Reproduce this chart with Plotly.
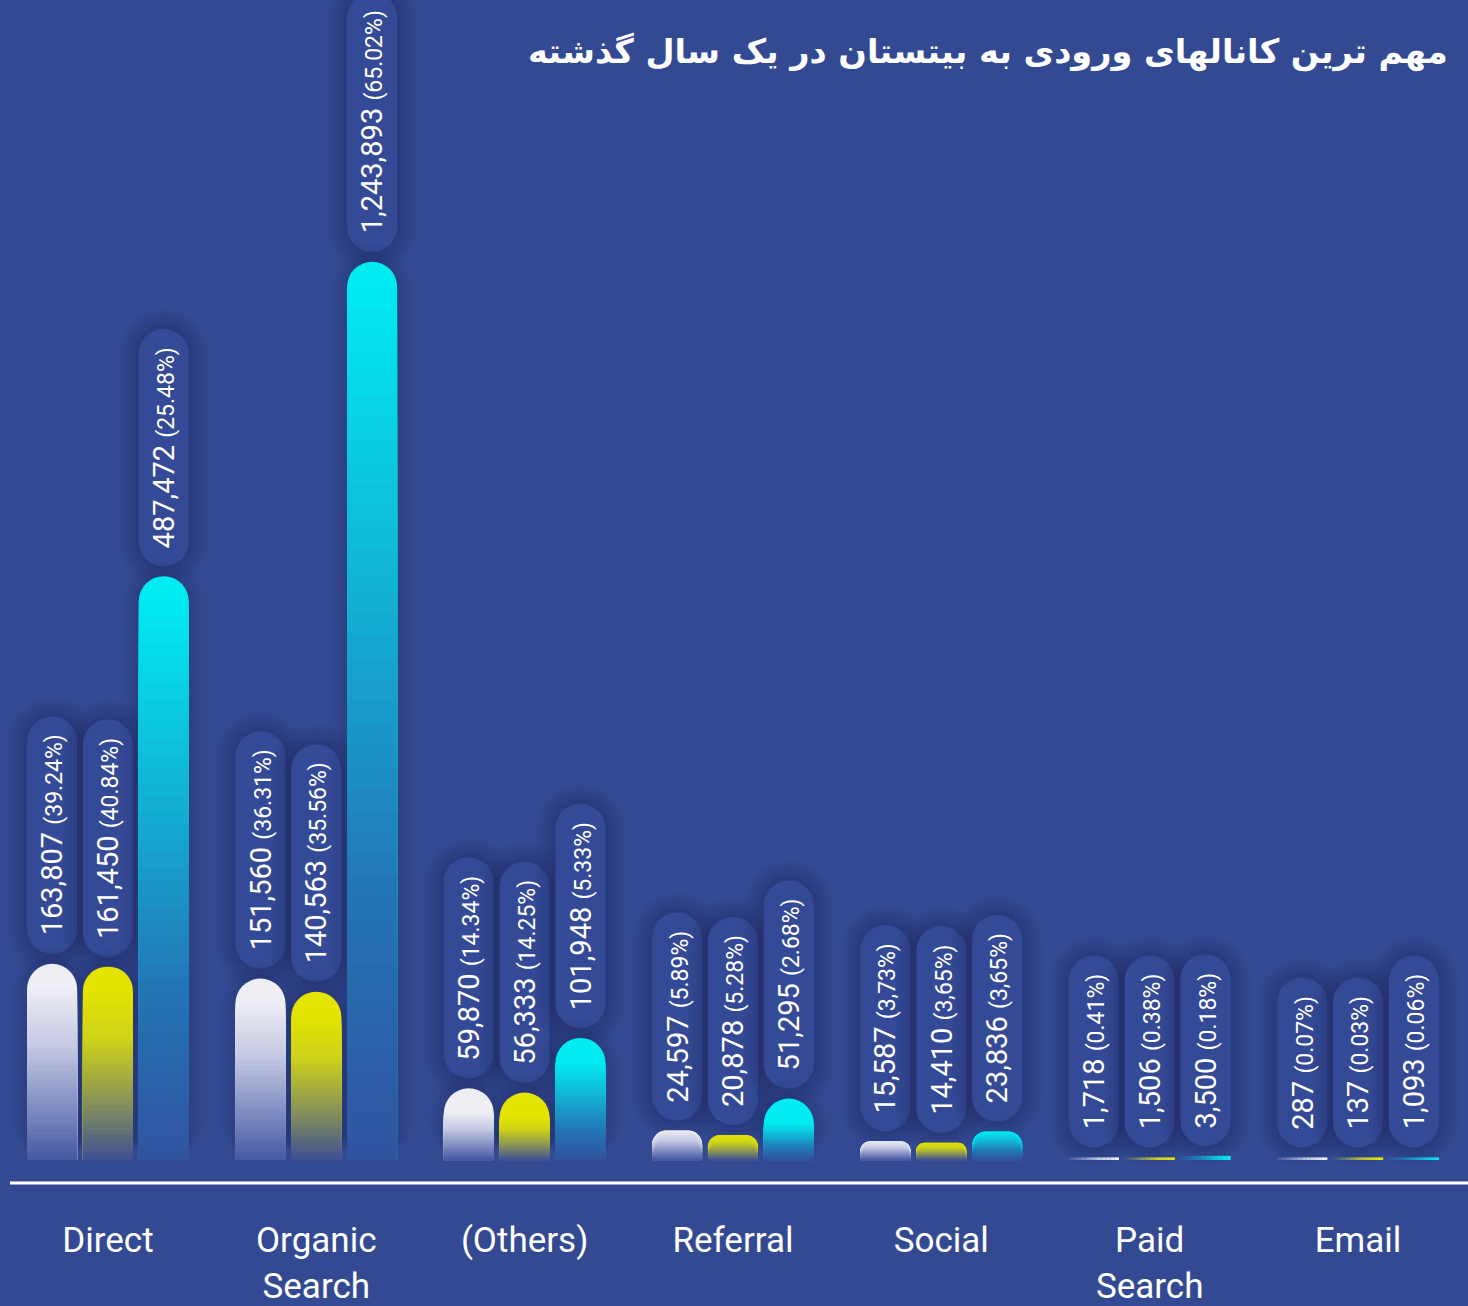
import plotly.graph_objects as go

categories = ["Direct", "Organic<br>Search", "(Others)", "Referral", "Social", "Paid<br>Search", "Email"]

white_values = [163807, 151560, 59870, 24597, 15587, 1718, 287]
white_pct = ["(39.24%)", "(36.31%)", "(14.34%)", "(5.89%)", "(3,73%)", "(0.41%)", "(0.07%)"]
yellow_values = [161450, 140563, 56333, 20878, 14410, 1506, 137]
yellow_pct = ["(40.84%)", "(35.56%)", "(14.25%)", "(5.28%)", "(3,65%)", "(0.38%)", "(0.03%)"]
cyan_values = [487472, 1243893, 101948, 51295, 23836, 3500, 1093]
cyan_pct = ["(25.48%)", "(65.02%)", "(5.33%)", "(2.68%)", "(3,65%)", "(0.18%)", "(0.06%)"]

# the original graphic cuts the tallest bar short and keeps tiny ones as a thin line
bar_cap = 750000
bar_floor = 2200

title = "مهم ترین کانالهای ورودی به بیتستان در یک سال گذشته"

BG = "rgb(51,74,147)"
W, H = 1468, 1306
MB = 123
plot_h = H - MB
y_min, y_max = -19200, 968600
u = (y_max - y_min) / plot_h          # data units per pixel (y)
x_min, x_max = -0.518, 6.528
px_x = W / (x_max - x_min)            # pixels per category

bar_w = 50 / px_x
pitch = 0.268
R = 25
N = 40
M = 12

series = [
    (white_values, white_pct, -pitch,
     [(0, (238, 238, 244)), (0.35, (196, 200, 226)), (0.7, (130, 142, 195)), (1, (72, 90, 164))]),
    (yellow_values, yellow_pct, 0.0,
     [(0, (228, 228, 0)), (0.3, (205, 210, 25)), (0.65, (140, 150, 85)), (1, (64, 82, 144))]),
    (cyan_values, cyan_pct, pitch,
     [(0, (0, 236, 242)), (0.35, (18, 180, 212)), (0.7, (35, 118, 182)), (1, (48, 84, 160))]),
]


def mix(stops, t):
    for (t0, c0), (t1, c1) in zip(stops, stops[1:]):
        if t <= t1:
            f = (t - t0) / (t1 - t0)
            c = [round(a + (b - a) * f) for a, b in zip(c0, c1)]
            return "rgb(%d,%d,%d)" % tuple(c)
    return "rgb(%d,%d,%d)" % stops[-1][1]


widths = {"0123456789": 0.562, ",": 0.197, ".": 0.263, "(": 0.342, ")": 0.348, "%": 0.733, " ": 0.248}


def text_px(s, size):
    tot = 0
    for ch in s:
        for k, v in widths.items():
            if ch in k:
                tot += v
                break
    return tot * size


def pill_path(cx, yb, yt, r_px):
    # rounded capsule in data coordinates
    rx, ry, k = r_px / px_x, r_px * u, 0.5523
    return (f"M {cx - rx},{yb + ry} L {cx - rx},{yt - ry} "
            f"C {cx - rx},{yt - ry + k * ry} {cx - k * rx},{yt} {cx},{yt} "
            f"C {cx + k * rx},{yt} {cx + rx},{yt - ry + k * ry} {cx + rx},{yt - ry} "
            f"L {cx + rx},{yb + ry} "
            f"C {cx + rx},{yb + ry - k * ry} {cx + k * rx},{yb} {cx},{yb} "
            f"C {cx - k * rx},{yb} {cx - rx},{yb + ry - k * ry} {cx - rx},{yb + ry} Z")


def bar(y, color, left, w, radius):
    return go.Bar(x=xs, y=y, base=[0] * len(xs), width=w, offset=left,
                  marker=dict(color=color, cornerradius=radius, line_width=0),
                  hoverinfo="skip", showlegend=False)


xs = list(range(len(categories)))
fig = go.Figure()
glow, bars, shapes, notes = [], [], [], []

for vals, pcts, center, stops in series:
    disp = [max(min(v, bar_cap), bar_floor) for v in vals]
    tall = [d > 60 * u for d in disp]
    small = [10 * u < d <= 60 * u for d in disp]
    tiny = [d <= 10 * u for d in disp]
    left = center - bar_w / 2

    # soft dark halo behind the bars
    for e, a in [(18, 0.03), (13, 0.04), (8, 0.05), (4, 0.06)]:
        w = (50 + 2 * e) / px_x
        glow.append(bar([d + e * u if t else 0 for d, t in zip(disp, tall)],
                        f"rgba(18,26,75,{a})", center - w / 2, w, R + e))

    # gradient: a rounded top, then square slices below the cap, each a bit shorter and darker
    bars.append(bar([0 if t else d for d, t in zip(disp, tiny)], mix(stops, 0), left, bar_w, R))
    for k in range(1, N + 1):
        f = (N - k + 1) / N
        col = mix(stops, k / N)
        bars.append(bar([(d - R * u) * f if t else 0 for d, t in zip(disp, tall)], col, left, bar_w, 0))
        bars.append(bar([d * f if s else 0 for d, s in zip(disp, small)], col, left, bar_w, R))

    # thin lines fade from left to right
    for j in range(M):
        bars.append(bar([d if t else 0 for d, t in zip(disp, tiny)], mix(stops, 1 - j / (M - 1)),
                        left + j * bar_w / M, bar_w / M * 1.05, 0))

    lens = [text_px(f"{v:,} ", 29) + text_px(p, 23) + 36 for v, p in zip(vals, pcts)]
    for i, (v, p, d, L) in enumerate(zip(vals, pcts, disp, lens)):
        cx = i + center
        yb = d + 10 * u
        yt = yb + L * u
        for e in (20, 16, 12, 9, 6, 3):
            shapes.append(dict(type="path", xref="x", yref="y", layer="below",
                               path=pill_path(cx, yb - e * u, yt + e * u, R + e),
                               fillcolor="rgba(18,26,75,0.045)", line_width=0))
        shapes.append(dict(type="path", xref="x", yref="y", layer="below",
                           path=pill_path(cx, yb, yt, R),
                           fillcolor="rgb(52,74,150)", line_width=0))
        notes.append(dict(
            x=cx, y=(yb + yt) / 2, xref="x", yref="y", textangle=-90,
            text=f"{v:,} <span style='font-size:23px'>{p}</span>",
            showarrow=False, xanchor="center", yanchor="middle",
            font=dict(family="Roboto", size=29, color="white")))

for t in glow + bars:
    fig.add_trace(t)

shapes.append(dict(type="line", xref="paper", yref="paper", x0=10 / W, x1=1, y0=0, y1=0,
                   line=dict(color="white", width=3)))

notes.append(dict(
    x=1450 / W, y=1 - 52 / plot_h, xref="paper", yref="paper",
    text=f"<b>{title}</b>", showarrow=False, xanchor="right", yanchor="middle",
    font=dict(family="DejaVu Sans", size=33.5, color="white")))

fig.update_layout(
    width=W, height=H, barmode="overlay",
    paper_bgcolor=BG, plot_bgcolor=BG,
    margin=dict(l=0, r=0, t=0, b=MB),
    annotations=notes,
    shapes=shapes,
    xaxis=dict(range=[x_min, x_max], tickvals=xs, ticktext=categories, ticks="",
               showgrid=False, zeroline=False, showline=False, ticklabelstandoff=33,
               tickfont=dict(family="Roboto", size=35, color="white")),
    yaxis=dict(range=[y_min, y_max], visible=False),
)

fig.write_html("out.html", config={"displayModeBar": False},
               post_script="document.body.style.margin='0';document.body.style.background='%s';" % BG)
